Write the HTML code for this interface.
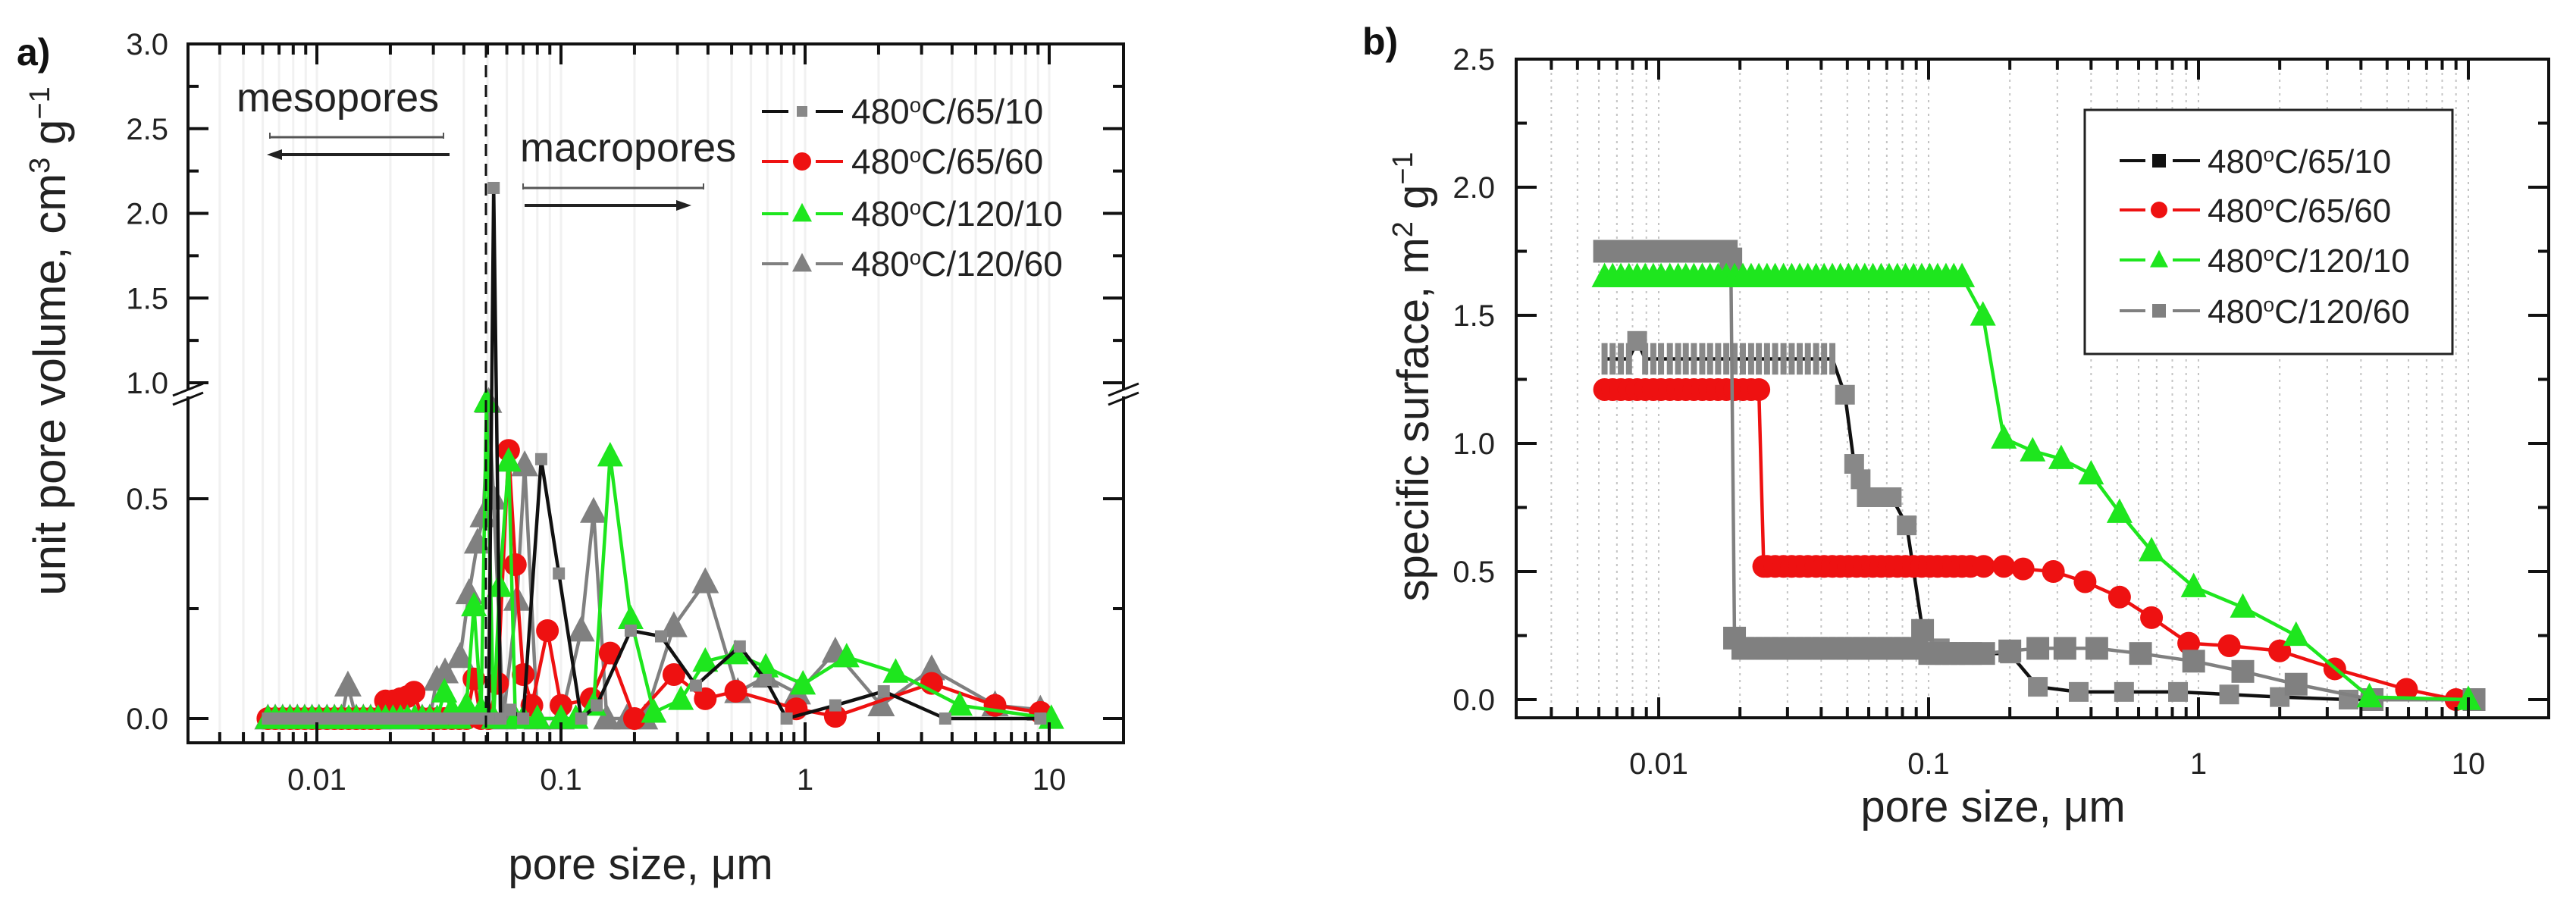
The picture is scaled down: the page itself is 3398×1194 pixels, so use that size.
<!DOCTYPE html>
<html><head><meta charset="utf-8"><title>Pore size distribution</title>
<style>
html,body{margin:0;padding:0;background:#fff;}
svg{display:block;font-family:"Liberation Sans",sans-serif;}
</style></head>
<body>
<svg id="fig" xmlns="http://www.w3.org/2000/svg" width="3398" height="1194" viewBox="0 0 3398 1194">
<rect x="0" y="0" width="3398" height="1194" fill="#fff"/>
<g id="gridA"></g>
<g id="gridB"></g>
<g id="seriesA"></g>
<g id="seriesB"></g>
<g id="axesA"></g>
<g id="axesB"></g>

<text x="22" y="86" font-size="50" font-weight="bold" fill="#111">a)</text>
<text transform="translate(86,450) rotate(-90)" text-anchor="middle" font-size="60" fill="#222">unit pore volume, cm<tspan baseline-shift="super" font-size="38">3</tspan> g<tspan baseline-shift="super" font-size="38">−1</tspan></text>
<text x="845" y="1160" text-anchor="middle" font-size="58" fill="#222">pore size, μm</text>
<line x1="641" y1="60" x2="641" y2="978" stroke="#111" stroke-width="3" stroke-dasharray="16 10"/>
<text x="312" y="147" font-size="54" fill="#222">mesopores</text>
<g>
<line x1="356" y1="181" x2="585" y2="181" stroke="#555" stroke-width="3"/>
<line x1="356" y1="175" x2="356" y2="183" stroke="#555" stroke-width="2"/>
<line x1="585" y1="175" x2="585" y2="183" stroke="#555" stroke-width="2"/>
</g>
<g>
<line x1="362" y1="204" x2="593" y2="204" stroke="#222" stroke-width="4"/>
<polygon points="352,204 372,197 372,211" fill="#222"/>
</g>
<text x="686" y="213" font-size="54" fill="#222">macropores</text>
<g>
<line x1="690" y1="248" x2="928" y2="248" stroke="#555" stroke-width="3"/>
<line x1="690" y1="242" x2="690" y2="250" stroke="#555" stroke-width="2"/>
<line x1="928" y1="242" x2="928" y2="250" stroke="#555" stroke-width="2"/>
</g>
<g>
<line x1="692" y1="271" x2="900" y2="271" stroke="#222" stroke-width="4"/>
<polygon points="912,271 892,264 892,278" fill="#222"/>
</g>
<g id="legendA"></g>

<text x="1797" y="72" font-size="50" font-weight="bold" fill="#111">b)</text>
<text transform="translate(1884,497) rotate(-90)" text-anchor="middle" font-size="58" fill="#222">specific surface, m<tspan baseline-shift="super" font-size="38">2</tspan> g<tspan baseline-shift="super" font-size="38">−1</tspan></text>
<text x="2629" y="1084" text-anchor="middle" font-size="58" fill="#222">pore size, μm</text>
<rect x="2750" y="145" width="485" height="322" fill="#fff" stroke="#222" stroke-width="3"/>
<g id="legendB"></g>
</svg>

<script>
const gridX = [0.0063,0.00675,0.00724,0.00776,0.00832,0.00891,0.00955,0.0102,0.011,0.0118,0.0126,0.0135,0.0145,0.0155,0.0166,0.0178,0.0191,0.0205,0.022,0.0235,0.0252,0.027,0.029,0.0311,0.0333,0.0357,0.0383,0.041,0.044,0.0471,0.0505,0.0541,0.058,0.0622,0.0667,0.0714,0.0766,0.0821,0.088,0.0943,0.101,0.108,0.116,0.124,0.133,0.143];

const seriesNames = ["480°C/65/10","480°C/65/60","480°C/120/10","480°C/120/60"];
const xTickValues = [0.01,0.1,1,10];
const xTickLabels = ["0.01","0.1","1","10"];
const yTickLabelsA = ["0.0","0.5","1.0","1.5","2.0","2.5","3.0"];
const yTickValuesA = [0,0.5,1.0,1.5,2.0,2.5,3.0];
const yTickLabelsB = ["0.0","0.5","1.0","1.5","2.0","2.5"];
const yTickValuesB = [0,0.5,1.0,1.5,2.0,2.5];

const aBlackX = gridX.slice(0,31).concat([0.053,0.0565,0.062,0.07,0.083,0.098,0.121,0.14,0.193,0.257,0.357,0.54,0.69,0.84,1.33,2.1,3.75,9.2]);
const aBlackY = [0,0,0,0,0,0,0,0,0,0, 0,0,0,0,0,0,0,0,0,0, 0,0,0,0,0,0,0,0,0,0, 0,
  2.15,0,0.02,0,0.59,0.33,0,0.03,0.2,0.187,0.075,0.164,0.088,0,0.03,0.062,0,0];
const aRedX = gridX.slice(0,16).concat([0.0191,0.0205,0.022,0.0235,0.025,0.027,0.029,0.0311,0.0333,0.0357,0.0383,0.041,0.044,0.047,0.0505,0.055,0.061,0.065,0.070,0.076,0.088,0.1,0.133,0.159,0.2,0.29,0.39,0.52,0.92,1.33,3.3,6.0,9.2]);
const aRedY = [0,0,0,0,0,0,0,0,0,0, 0,0,0,0,0,0,
  0.04,0.04,0.045,0.05,0.06,0,0,0,0,0,0,0,0.09,0,0,0.08,0.61,0.35,0.10,0.03,0.2,0.03,0.045,0.149,0,0.10,0.045,0.062,0.022,0.005,0.08,0.03,0.014];
const aGreenX = gridX.slice(0,24).concat([0.0333,0.0357,0.0383,0.041,0.044,0.0471,0.0495,0.053,0.056,0.061,0.065,0.07,0.08,0.1,0.115,0.136,0.159,0.193,0.24,0.31,0.39,0.52,0.69,0.98,1.48,2.35,4.3,10.2]);
const aGreenY = [0,0,0,0,0,0,0,0,0,0, 0,0,0,0,0,0,0,0,0,0, 0,0,0,0,
  0.06,0.02,0,0.03,0.256,0.02,0.72,0,0.3,0.585,0,0,0,0,0,0.03,0.597,0.227,0.014,0.043,0.13,0.147,0.117,0.078,0.14,0.105,0.03,0];
const aGrayX = gridX.slice(0,11).concat([0.0134,0.0145,0.0155,0.0166,0.0178,0.0191,0.0205,0.022,0.0235,0.0252,0.027,0.029,0.031,0.0335,0.0386,0.042,0.0455,0.048,0.0505,0.053,0.058,0.066,0.071,0.08,0.1,0.121,0.136,0.154,0.186,0.22,0.29,0.39,0.53,0.69,0.93,1.33,2.05,3.3,6,9.2]);
const aGrayY = [0,0,0,0,0,0,0,0,0,0, 0, 0.075, 0,0,0,0,0,0,0,0,0,0,0,
  0.088,0.105,0.14,0.285,0.40,0.46,0.72,0.5,0,0.27,0.576,0,0,0.2,0.47,0,0,0,0.21,0.31,0.06,0.095,0.057,0.152,0.03,0.112,0.03,0.02];

const bBlackX = gridX.slice(0,29).concat([0.049,0.053,0.056,0.059,0.066,0.073,0.083,0.095,0.11,0.13,0.16,0.2,0.254,0.36,0.53,0.84,1.3,2.0,3.6,10]);
const bBlackY = [1.33,1.33,1.33,1.33,1.40,1.33,1.33,1.33,1.33,1.33, 1.33,1.33,1.33,1.33,1.33,1.33,1.33,1.33,1.33,1.33, 1.33,1.33,1.33,1.33,1.33,1.33,1.33,1.33,1.33,
  1.19,0.92,0.86,0.79,0.79,0.79,0.68,0.27,0.20,0.18,0.18,0.18,0.05,0.03,0.03,0.03,0.02,0.01,0,0];
const bRedX = gridX.slice(0,20).concat([0.0245]).concat(gridX.slice(20,46)).concat([0.16,0.19,0.224,0.29,0.38,0.51,0.67,0.92,1.3,2.0,3.2,5.9,9.0]);
const bRedY = [1.21,1.21,1.21,1.21,1.21,1.21,1.21,1.21,1.21,1.21, 1.21,1.21,1.21,1.21,1.21,1.21,1.21,1.21,1.21,1.21,
  0.52,
  0.52,0.52,0.52,0.52,0.52,0.52,0.52,0.52,0.52,0.52, 0.52,0.52,0.52,0.52,0.52,0.52,0.52,0.52,0.52,0.52, 0.52,0.52,0.52,0.52,0.52,0.52,
  0.52,0.52,0.51,0.50,0.46,0.40,0.32,0.22,0.21,0.19,0.12,0.04,0.0];
const bGrayX = gridX.slice(0,16).concat([0.0185,0.0191]).concat(gridX.slice(17,39)).concat([0.095]).concat(gridX.slice(40,46)).concat([0.16,0.2,0.254,0.32,0.42,0.61,0.96,1.46,2.3,4.4,10.5]);
const bGrayY = [1.75,1.75,1.75,1.75,1.75,1.75,1.75,1.75,1.75,1.75, 1.75,1.75,1.75,1.75,1.75,1.75,
  1.72,0.24,
  0.20,0.20,0.20,0.20,0.20,0.20,0.20,0.20,0.20,0.20, 0.20,0.20,0.20,0.20,0.20,0.20,0.20,0.20,0.20,0.20, 0.20,0.20,
  0.27,
  0.18,0.18,0.18,0.18,0.18,0.18,
  0.18,0.19,0.2,0.2,0.2,0.18,0.15,0.11,0.06,0,0];
const bGreenX = gridX.slice(0,45).concat([0.159,0.19,0.243,0.31,0.40,0.51,0.67,0.96,1.46,2.3,4.3,10]);
const bGreenY = [1.65,1.65,1.65,1.65,1.65,1.65,1.65,1.65,1.65,1.65, 1.65,1.65,1.65,1.65,1.65,1.65,1.65,1.65,1.65,1.65,
  1.65,1.65,1.65,1.65,1.65,1.65,1.65,1.65,1.65,1.65, 1.65,1.65,1.65,1.65,1.65,1.65,1.65,1.65,1.65,1.65, 1.65,1.65,1.65,1.65,1.65,
  1.50,1.02,0.97,0.94,0.88,0.73,0.58,0.44,0.36,0.25,0.01,0];

const NS = "http://www.w3.org/2000/svg";
function el(tag, parent){ const e = document.createElementNS(NS, tag); parent.appendChild(e); return e; }
function attrs(e, o){ for (const k in o) e.setAttribute(k, o[k]); return e; }

const A = {left:248, right:1482, top:58, bottom:980};
const B = {left:2000, right:3362, top:78, bottom:947};
function xA(v){ return 418 + 322*(Math.log10(v)+2); }
function yA(v){ return v <= 0.75 ? 948 - 580*v : 505 - (v-1)*223.5; }
function xB(v){ return 2188 + 356*(Math.log10(v)+2); }
function yB(v){ return 923 - 338*v; }

const minorX = [];
for (let d=-3; d<=1; d++) for (let m=1; m<=9; m++) minorX.push(m*Math.pow(10,d));

function drawXAxis(g, xf, P, grid, gridStyle){
  minorX.forEach(v=>{
    const px = xf(v);
    if (px < P.left+2 || px > P.right-2) return;
    const major = Math.abs(Math.log10(v) - Math.round(Math.log10(v))) < 1e-9;
    const len = major ? 27 : 14;
    const gl = el('line', grid);
    attrs(gl, {x1:px, x2:px, y1:P.top, y2:P.bottom, stroke:gridStyle.c, 'stroke-width':gridStyle.w});
    if (gridStyle.dash) gl.setAttribute('stroke-dasharray', gridStyle.dash);
    
    
    const t1 = el('line', g);
    attrs(t1, {x1:px, x2:px, y1:P.bottom, y2:P.bottom-len, stroke:'#111', 'stroke-width':4});
    
    
    const t2 = el('line', g);
    attrs(t2, {x1:px, x2:px, y1:P.top, y2:P.top+len, stroke:'#111', 'stroke-width':4});
    
    
  });
}
function drawXLabels(g, xf, ly){
  xTickValues.forEach((v,i)=>{
    const t = el('text', g);
    attrs(t, {x:xf(v), y:ly, 'text-anchor':'middle', 'font-size':40, fill:'#222'});
    t.textContent = xTickLabels[i];
    
    
  });
}
function drawYTick(g, P, py, len){
  const t1 = el('line', g);
  attrs(t1, {x1:P.left, x2:P.left+len, y1:py, y2:py, stroke:'#111', 'stroke-width':4});
  
  
  const t2 = el('line', g);
  attrs(t2, {x1:P.right, x2:P.right-len, y1:py, y2:py, stroke:'#111', 'stroke-width':4});
  
  
}
function drawFrame(g, P){
  const r = el('rect', g);
  attrs(r, {x:P.left, y:P.top, width:P.right-P.left, height:P.bottom-P.top, fill:'none', stroke:'#111', 'stroke-width':4});
  
  
}

const axA = document.getElementById('axesA');
drawFrame(axA, A);
drawXAxis(axA, xA, A, document.getElementById('gridA'), {c:'#f1f1f1', w:3});
drawXLabels(axA, xA, 1042);
yTickValuesA.forEach((v,i)=>{
  drawYTick(axA, A, yA(v), 27);
  const t = el('text', axA);
  attrs(t, {x:222, y:yA(v)+14, 'text-anchor':'end', 'font-size':40, fill:'#222'});
  t.textContent = yTickLabelsA[i];
  
  
});
[0.25,1.25,1.75,2.25,2.75].forEach(v=>drawYTick(axA, A, yA(v), 14));
[A.left, A.right].forEach(bx=>{
  const w = el('rect', axA);
  attrs(w, {x:bx-4, y:513, width:8, height:10, fill:'#fff'});
  
  
  [0,12].forEach(off=>{
    const l = el('line', axA);
    attrs(l, {x1:bx-20, y1:528+off-6, x2:bx+20, y2:512+off-6, stroke:'#111', 'stroke-width':3});
    
    
  });
});

const axB = document.getElementById('axesB');
drawFrame(axB, B);
drawXAxis(axB, xB, B, document.getElementById('gridB'), {c:'#c4c4c4', w:2, dash:'3 6'});
drawXLabels(axB, xB, 1021);
yTickValuesB.forEach((v,i)=>{
  drawYTick(axB, B, yB(v), 27);
  const t = el('text', axB);
  attrs(t, {x:1972, y:yB(v)+14, 'text-anchor':'end', 'font-size':40, fill:'#222'});
  t.textContent = yTickLabelsB[i];
  
  
});
[0.25,0.75,1.25,1.75,2.25].forEach(v=>drawYTick(axB, B, yB(v), 14));

function marker(g, shape, x, y, s, fill){
  let m;
  if (shape === 'circle'){ m = el('circle', g); attrs(m, {cx:x, cy:y, r:s/2, fill:fill}); }
  else if (shape === 'tri'){ m = el('polygon', g); attrs(m, {points:`${x},${y-s*0.55} ${x-s/2},${y+s*0.4} ${x+s/2},${y+s*0.4}`, fill:fill}); }
  else if (shape === 'bar'){ m = el('rect', g); attrs(m, {x:x-4, y:y-s*0.8, width:8, height:s*1.6, fill:fill}); }
  else { m = el('rect', g); attrs(m, {x:x-s/2, y:y-s/2, width:s, height:s, fill:fill}); }
  return m;
}
function drawSeries(parent, name, xs, ys, xf, yf, lineColor, markColor, shape, size, barRule){
  const g = el('g', parent);
  
  
  const pts = xs.map((x,i)=>xf(x).toFixed(1)+','+yf(ys[i]).toFixed(1)).join(' ');
  const pl = el('polyline', g);
  attrs(pl, {points:pts, fill:'none', stroke:lineColor, 'stroke-width':4.5, 'stroke-linejoin':'round'});
  
  
  xs.forEach((x,i)=>{
    const shp = (barRule && barRule(ys[i])) ? 'bar' : shape;
    const m = marker(g, shp, xf(x), yf(ys[i]), size, markColor);
    
    
  });
}
const GREEN = '#1ee61e', RED = '#ee1111', GRAY = '#808080', DGRAY = '#888';
const sA = document.getElementById('seriesA');
drawSeries(sA, 'a-series-120-60', aGrayX, aGrayY, xA, yA, GRAY, GRAY, 'tri', 36);
drawSeries(sA, 'a-series-65-60', aRedX, aRedY, xA, yA, RED, RED, 'circle', 30);
drawSeries(sA, 'a-series-120-10', aGreenX, aGreenY, xA, yA, GREEN, GREEN, 'tri', 34);
drawSeries(sA, 'a-series-65-10', aBlackX, aBlackY, xA, yA, '#111', DGRAY, 'square', 16);

const sB = document.getElementById('seriesB');
drawSeries(sB, 'b-series-65-10', bBlackX, bBlackY, xB, yB, '#111', DGRAY, 'square', 26, v => v > 1.3 && v < 1.36);
drawSeries(sB, 'b-series-65-60', bRedX, bRedY, xB, yB, RED, RED, 'circle', 30);
drawSeries(sB, 'b-series-120-60', bGrayX, bGrayY, xB, yB, GRAY, GRAY, 'square', 30);
drawSeries(sB, 'b-series-120-10', bGreenX, bGreenY, xB, yB, GREEN, GREEN, 'tri', 34);

function legend(parent, items, x1, x2, xm, xt, ys, fs, prefix){
  items.forEach((it,i)=>{
    const g = el('g', parent);
    
    
    const y = ys[i];
    const l1 = el('line', g);
    attrs(l1, {x1:x1, x2:xm-18, y1:y, y2:y, stroke:it.lc, 'stroke-width':4});
    
    
    const l2 = el('line', g);
    attrs(l2, {x1:xm+18, x2:x2, y1:y, y2:y, stroke:it.lc, 'stroke-width':4});
    
    
    const m = marker(g, it.shape, xm, y, it.size, it.mc);
    
    
    const t = el('text', g);
    attrs(t, {x:xt, y:y+16, 'font-size':fs, fill:'#222'});
    const parts = seriesNames[i].split('°');
    t.appendChild(document.createTextNode(parts[0]));
    const sup = el('tspan', t);
    attrs(sup, {'baseline-shift':'super', 'font-size':fs*0.6});
    sup.textContent = 'o';
    const rest = el('tspan', t);
    rest.textContent = parts[1];
    
    
  });
}
legend(document.getElementById('legendA'), [
  {lc:'#111', mc:DGRAY, shape:'square', size:14},
  {lc:RED, mc:RED, shape:'circle', size:24},
  {lc:GREEN, mc:GREEN, shape:'tri', size:26},
  {lc:GRAY, mc:GRAY, shape:'tri', size:26}
], 1005, 1112, 1058, 1123, [147,213,282,348], 46, 'panel-a');
legend(document.getElementById('legendB'), [
  {lc:'#111', mc:'#111', shape:'square', size:18},
  {lc:RED, mc:RED, shape:'circle', size:22},
  {lc:GREEN, mc:GREEN, shape:'tri', size:24},
  {lc:GRAY, mc:GRAY, shape:'square', size:18}
], 2796, 2902, 2848, 2912, [212,277,343,410], 44, 'panel-b');
</script>
</body></html>
